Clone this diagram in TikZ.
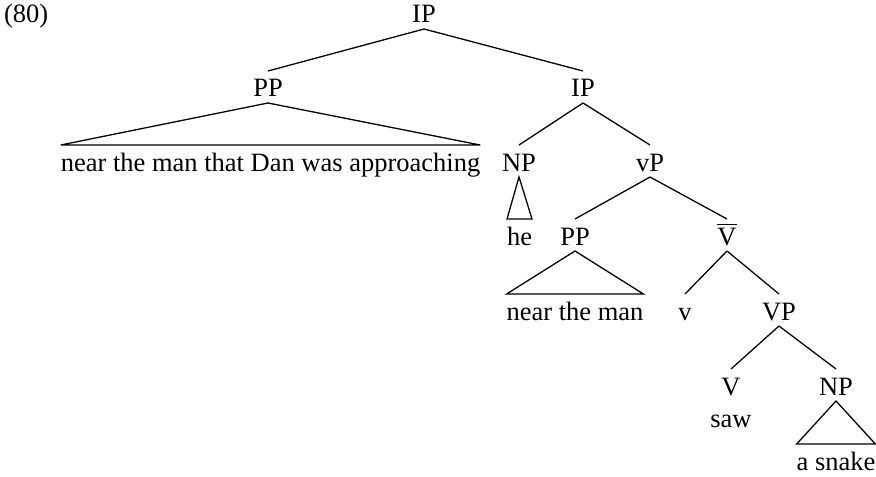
\documentclass[tikz,border=0pt]{standalone}
\usepackage{fontspec}
\setmainfont{Liberation Serif}
\begin{document}
\begin{tikzpicture}[x=0.5pt,y=-0.5pt,
  lbl/.style={inner sep=0pt, outer sep=0pt, anchor=base, text height=13pt, text depth=3pt, font=\fontsize{13.25}{16}\selectfont},
  edge/.style={draw=black, line width=0.65pt},
  roof/.style={draw=black, line width=0.65pt, line join=miter}]
\useasboundingbox (0,0) rectangle (876,476);
\node[lbl, anchor=base west] (ex) at (4,23) {(80)};
\node[lbl] (ip0) at (424,23) {IP};
\node[lbl] (pp1) at (268,97) {PP};
\node[lbl] (ip1) at (583,97) {IP};
\node[lbl] (long) at (270.5,171) {near the man that Dan was approaching};
\node[lbl] (np2) at (519,171) {NP};
\node[lbl] (vp2) at (650,171) {vP};
\node[lbl] (he) at (519.5,245) {he};
\node[lbl] (pp3) at (575,245) {PP};
\node[lbl] (vbar) at (727,245) {$\overline{\mbox{V}}$};
\node[lbl] (ntm) at (575,320) {near the man};
\node[lbl] (v) at (685,320) {v};
\node[lbl] (vp4) at (779,320) {VP};
\node[lbl] (v5) at (731,395) {V};
\node[lbl] (np5) at (836,395) {NP};
\node[lbl] (saw) at (731,427) {saw};
\node[lbl] (snake) at (836,470) {a snake};
\path[edge] (ip0.south) -- (pp1.north);
\path[edge] (ip0.south) -- (ip1.north);
\path[roof] (pp1.south) -- (long.north west) -- (long.north east) -- cycle;
\path[edge] (ip1.south) -- (np2.north);
\path[edge] (ip1.south) -- (vp2.north);
\path[roof] (np2.south) -- (he.north west) -- (he.north east) -- cycle;
\path[edge] (vp2.south) -- (pp3.north);
\path[edge] (vp2.south) -- (vbar.north);
\path[roof] (pp3.south) -- (ntm.north west) -- (ntm.north east) -- cycle;
\path[edge] (vbar.south) -- (v.north);
\path[edge] (vbar.south) -- (vp4.north);
\path[edge] (vp4.south) -- (v5.north);
\path[edge] (vp4.south) -- (np5.north);
\path[roof] (np5.south) -- (snake.north west) -- (snake.north east) -- cycle;
\end{tikzpicture}
\end{document}
